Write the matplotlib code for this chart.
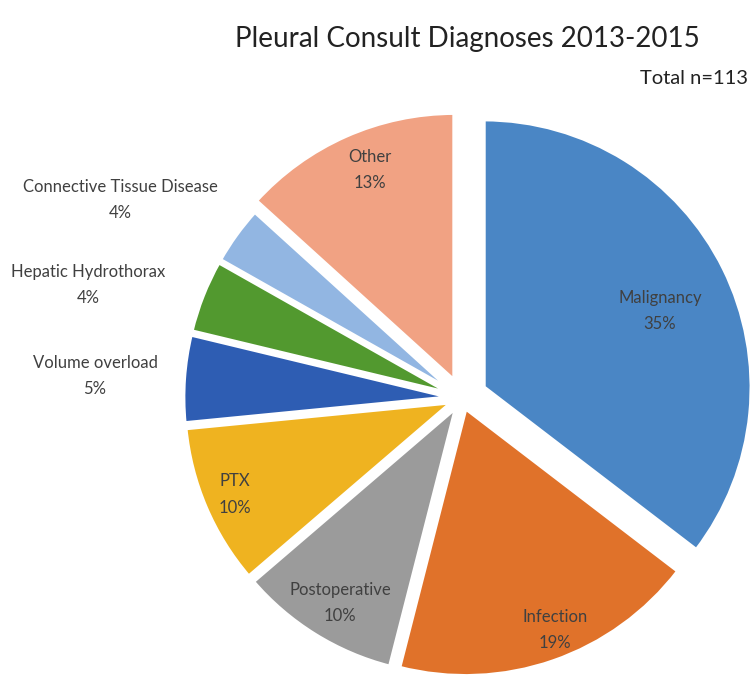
import numpy as np
import matplotlib.pyplot as plt

plt.rcParams['font.family'] = ['Lato', 'DejaVu Sans']

categories = ['Malignancy', 'Infection', 'Postoperative', 'PTX', 'Volume overload',
              'Hepatic Hydrothorax', 'Connective Tissue Disease', 'Other']
counts = [40, 21, 11, 11, 6, 5, 4, 15]   # total n=113
pct_labels = ['35%', '19%', '10%', '10%', '5%', '4%', '4%', '13%']
colors = ['#4a86c5', '#e0722a', '#9b9b9b', '#efb320', '#2e5db3',
          '#52992f', '#92b6e2', '#f1a283']
explode = [0.09, 0.04, 0.04, 0.04, 0.04, 0.04, 0.04, 0.07]

# label centres, in units of the pie radius (pie centre at 0,0)
label_xy = {'Malignancy': (0.739, 0.325),
            'Infection': (0.347, -0.866),
            'Postoperative': (-0.455, -0.765),
            'PTX': (-0.847, -0.360),
            'Volume overload': (-1.369, 0.082),
            'Hepatic Hydrothorax': (-1.396, 0.422),
            'Connective Tissue Disease': (-1.276, 0.739),
            'Other': (-0.343, 0.851)}

fig = plt.figure(figsize=(7.52, 6.79), dpi=100)
ax = fig.add_axes([0, 0, 1, 1])

wedges, _ = ax.pie(counts, colors=colors, explode=explode, startangle=90,
                   counterclock=False, radius=1.0,
                   wedgeprops=dict(edgecolor='white', linewidth=3))

txt_color = '#404040'
for cat, p in zip(categories, pct_labels):
    x, y = label_xy[cat]
    ax.text(x, y, cat + '\n' + p, ha='center', va='center', fontsize=12,
            color=txt_color, linespacing=1.8)

ax.set_aspect('equal')
ax.set_xlim(-462 / 268, 290 / 268)
ax.set_ylim(-281 / 268, 398 / 268)
ax.axis('off')

fig.text(0.621, 0.942, 'Pleural Consult Diagnoses 2013-2015', ha='center', va='center',
         fontsize=20, color='#222222')
fig.text(0.995, 0.884, 'Total n=113', ha='right', va='center', fontsize=14.5,
         color='#222222')

fig.savefig('out.png', dpi=100)
